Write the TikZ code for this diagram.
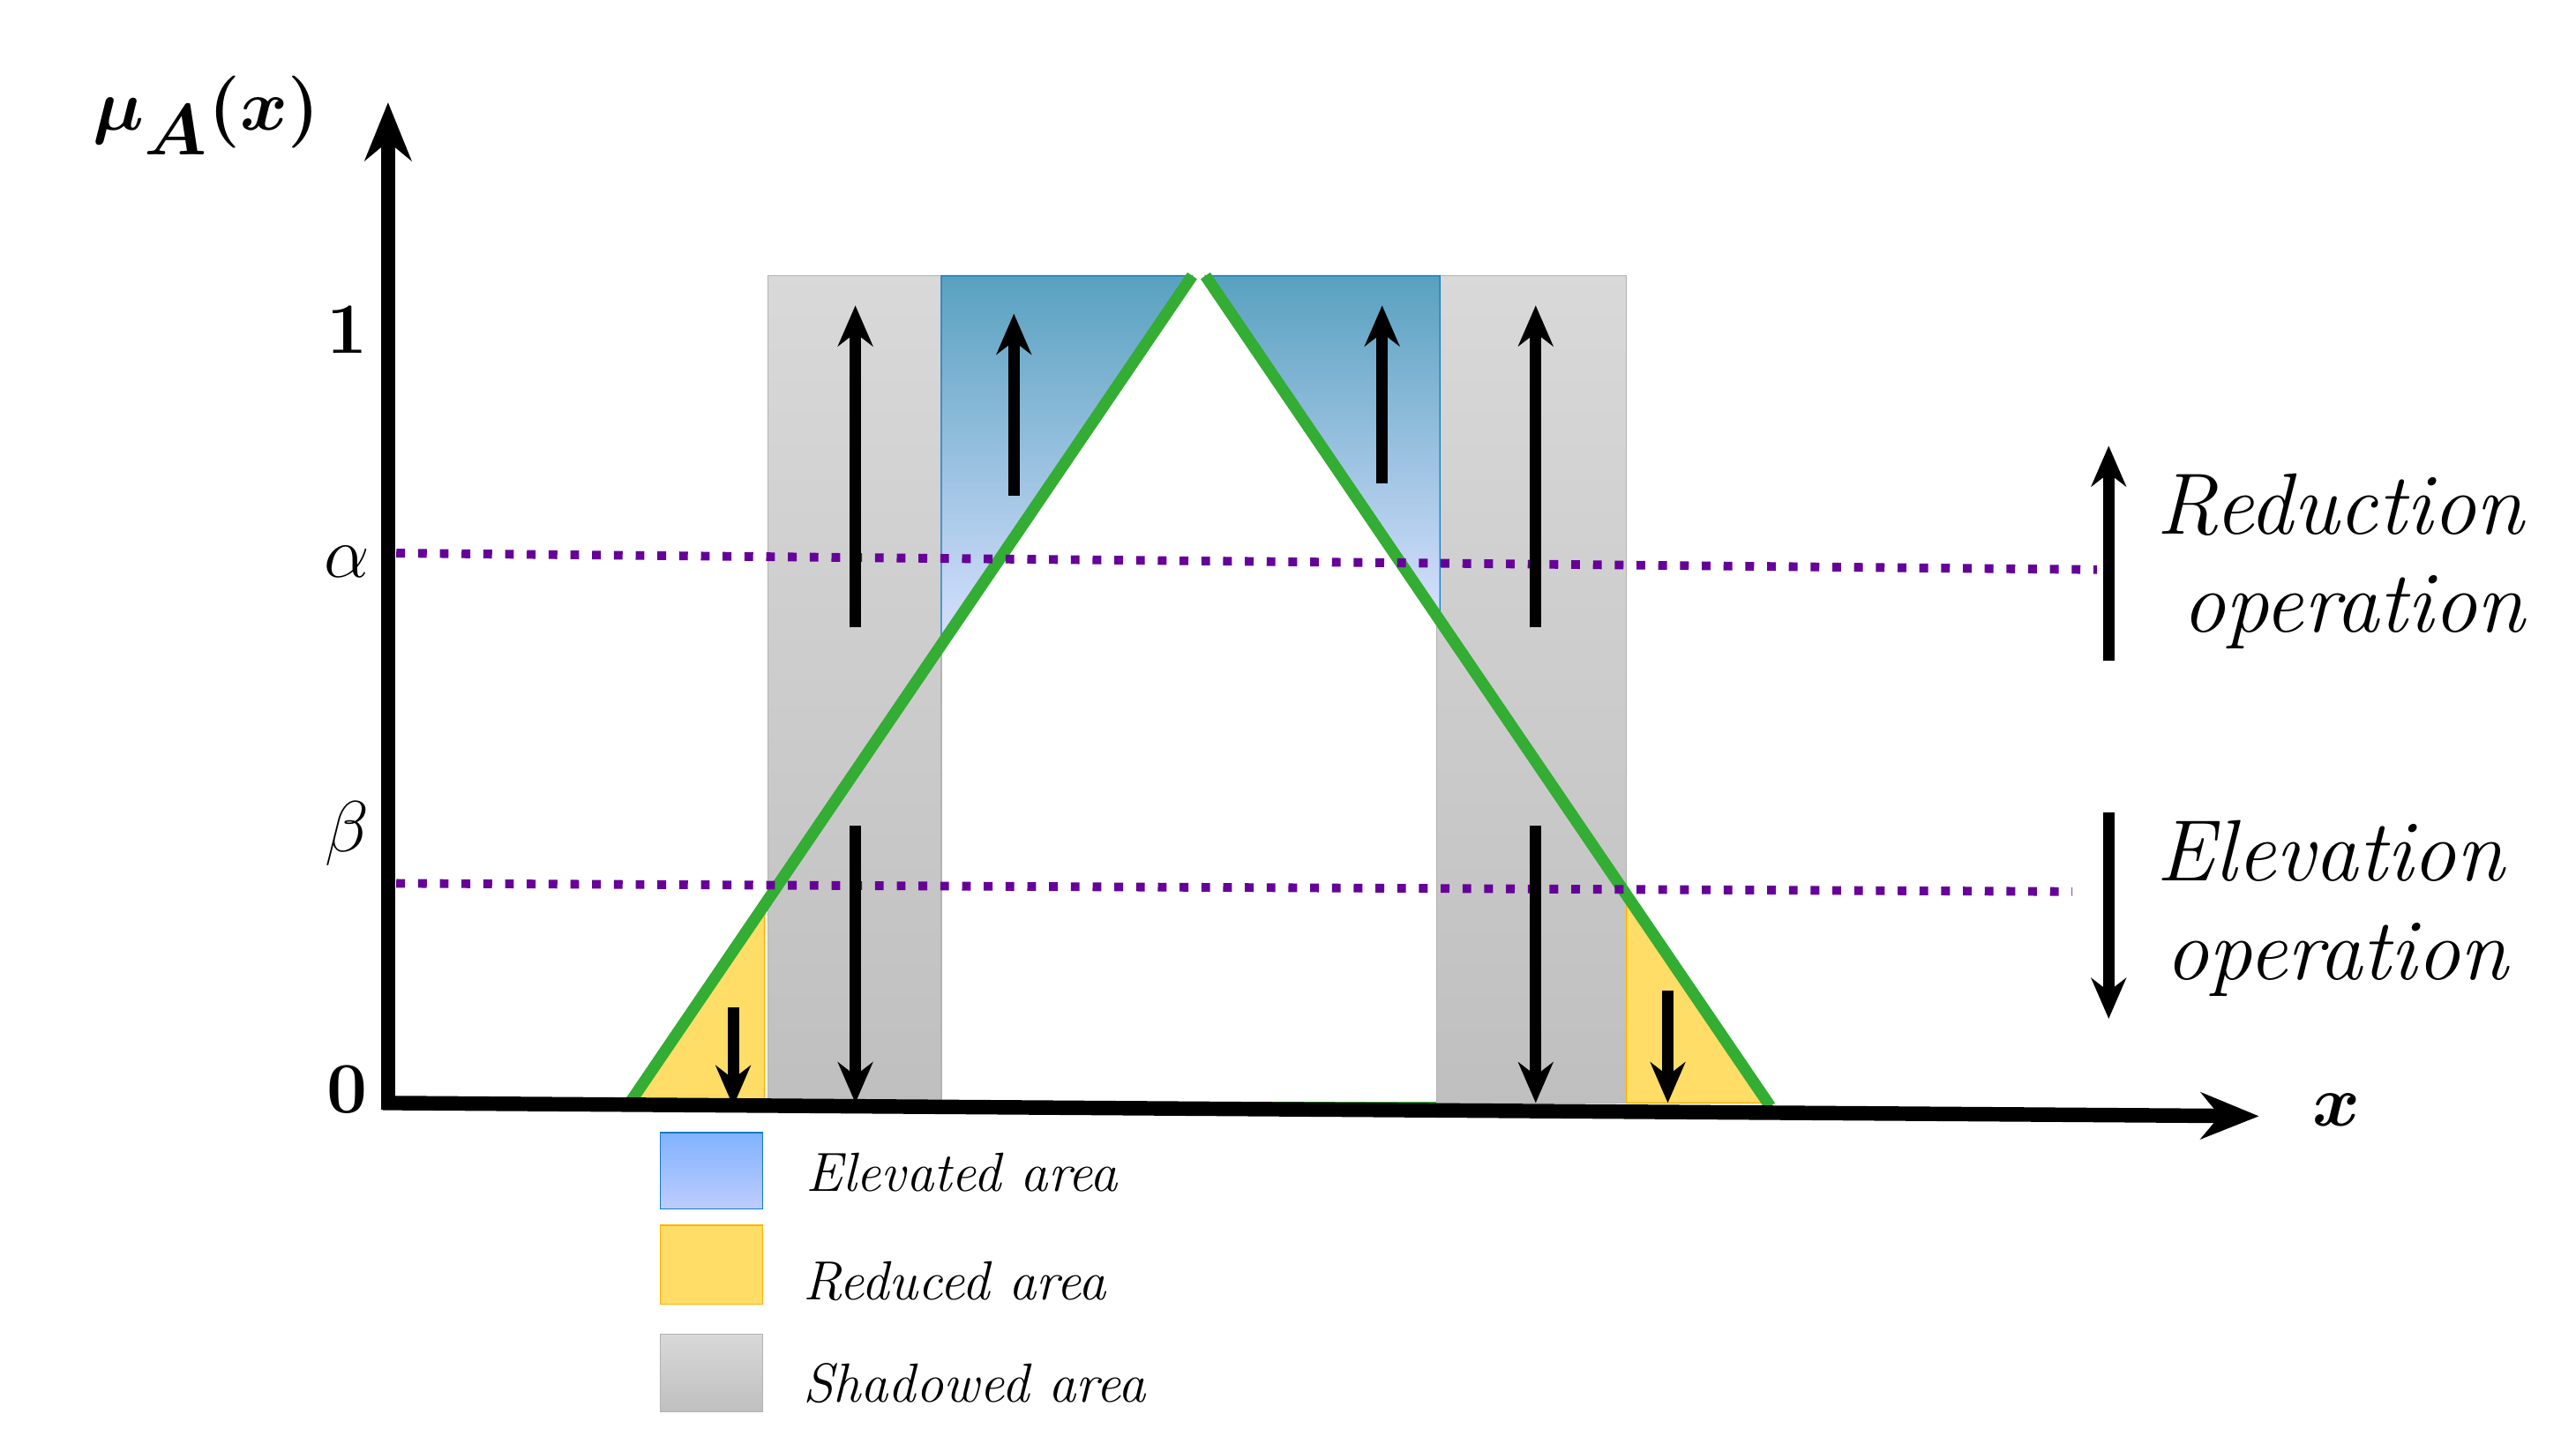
\documentclass[tikz,border=0pt]{standalone}
\usepackage{amsmath,bm}
\usetikzlibrary{arrows.meta}
\begin{document}
\begin{tikzpicture}[x=0.02cm,y=-0.02cm,
  ar/.style={line width=4pt,-{Stealth[length=14pt,width=12pt]}},
  ax/.style={line width=5pt,-{Stealth[length=20pt,width=16pt]}},
  dot/.style={violet!80!blue,line width=3pt,dash pattern=on 3pt off 4.5pt},
  grn/.style={green!60!black!80,line width=4pt},
  big/.style={font=\fontsize{46}{50}\selectfont},
  lab/.style={font=\fontsize{30}{34}\selectfont\itshape,align=left,anchor=west},
  leg/.style={font=\fontsize{19}{22}\selectfont\itshape,anchor=west}]
\useasboundingbox (0,0) rectangle (1560,874.5);
% gray
\shade[top color=gray!30,bottom color=gray!50,draw=gray!60] (465,167) rectangle (570,668);
\shade[top color=gray!30,bottom color=gray!50,draw=gray!60] (870,167) rectangle (985,668);
% blue
\shade[top color=blue!30!cyan!45!gray!90,bottom color=cyan!20!blue!15,draw=cyan!60!blue] (570,167)--(722,167)--(570,391)--cycle;
\shade[top color=blue!30!cyan!45!gray!90,bottom color=cyan!20!blue!15,draw=cyan!60!blue] (730,167)--(872,167)--(872,376)--cycle;
% yellow
\fill[orange!45!yellow!60,draw=orange!60!yellow] (383,668)--(463,668)--(463,548)--cycle;
\fill[orange!45!yellow!60,draw=orange!60!yellow] (985,668)--(1070,668)--(985,545)--cycle;
% green
\draw[grn,line width=1pt] (570,668)--(870,668);
\draw[grn] (380,670)--(722,167);
\draw[grn] (730,167)--(1072,670);
% dotted
\draw[dot] (240,335)--(1270,345);
\draw[dot] (240,535)--(1255,540);
% arrows
\draw[ar] (518,380)--(518,185);
\draw[ar] (614,300)--(614,190);
\draw[ar] (837,293)--(837,185);
\draw[ar] (930,380)--(930,185);
\draw[ar] (518,500)--(518,668);
\draw[ar] (930,500)--(930,668);
\draw[ar] (444,610)--(444,670);
\draw[ar] (1010,600)--(1010,668);
\draw[ar] (1277,400)--(1277,270);
\draw[ar] (1277,492)--(1277,617);
% axes
\draw[ax] (235,672)--(235,62);
\draw[ax] (232,668)--(1368,676);
% labels
\node[big] (mu) at (125,70) {$\bm{\mu_A(x)}$};
\node[big] (xl) at (1415,672) {$\bm{x}$};
\node[big] (one) at (210,200) {$\mathbf{1}$};
\node[big] (al) at (210,340) {$\alpha$};
\node[big] (be) at (210,505) {$\beta$};
\node[big] (zero) at (210,660) {$\mathbf{0}$};
\node[lab] (red) at (1300,340) {Reduction\\\hspace{0.3cm}operation};
\node[lab] (ele) at (1300,550) {Elevation\\\hspace{0.1cm}operation};
% legend
\shade[top color=cyan!40!blue!50,bottom color=cyan!20!blue!25,draw=cyan!60!blue] (400,686) rectangle (462,732);
\fill[orange!45!yellow!60,draw=orange!60!yellow] (400,742) rectangle (462,790);
\shade[top color=gray!30,bottom color=gray!50,draw=gray!60] (400,808) rectangle (462,855);
\node[leg] (l1) at (482,710) {Elevated area};
\node[leg] (l2) at (480,776) {Reduced area};
\node[leg] (l3) at (480,838) {Shadowed area};
\end{tikzpicture}
\end{document}
